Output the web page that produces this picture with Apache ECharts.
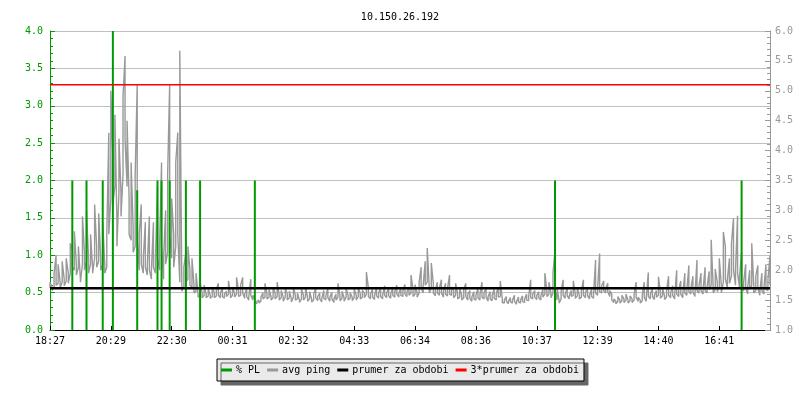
<!DOCTYPE html>
<html><head><meta charset="utf-8">
<script src="https://cdn.jsdelivr.net/npm/echarts@6/dist/echarts.min.js"></script>
<style>html,body{margin:0;padding:0;background:#fff}#c{width:800px;height:400px}</style>
</head><body><div id="c"></div>
<script>
const chartTitle = '10.150.26.192';
const tickLabels = ['18:27','20:29','22:30','00:31','02:32','04:33','06:34','08:36','10:37','12:39','14:40','16:41'];
const samplesPerTick = 30;
// avg ping (ms) per ~4-minute bin: highest and lowest reading in the bin, right axis
const pingEveningMax = [
 1.80,1.72,1.95,2.25,2.10,1.80,2.15,1.85,2.20,1.95,
 2.45,2.35,2.65,2.10,2.40,1.85,2.90,2.30,3.00,2.20,
 2.60,2.05,3.10,2.40,2.95,2.20,2.80,2.10,2.60,4.30,
 5.00,3.90,4.60,2.80,4.20,3.30,4.90,5.58,4.50,3.20,
 3.80,2.70,3.60,5.10,2.60,3.10,2.20,2.80,2.10,2.90,
 2.00,2.80,2.20,3.40,2.40,3.80,2.20,3.00,3.60,5.10,
 3.20,2.60,3.80,4.30,5.67,1.75,2.05,2.30,2.40,2.00,
 2.20,1.75,1.95,1.60,1.80,1.62,1.75,1.60,1.70,1.58,
 1.72,1.62,1.68,1.78,1.62,1.70,1.60
];
const pingEveningMin = [
 1.70,1.66,1.72,1.75,1.78,1.70,1.80,1.74,1.82,1.78,
 1.95,2.05,2.00,1.92,2.05,1.80,2.10,2.00,2.15,1.95,
 2.10,1.95,2.20,2.05,2.15,2.00,2.10,1.95,2.05,2.60,
 3.20,3.10,3.40,2.40,3.30,2.90,3.60,4.20,3.40,2.60,
 2.50,2.30,2.40,2.50,2.00,2.10,1.95,2.05,1.92,2.00,
 1.85,2.05,1.95,2.20,2.00,2.40,1.85,2.10,2.30,2.60,
 2.20,2.05,2.40,2.60,1.80,1.65,1.72,1.80,1.85,1.75,
 1.72,1.62,1.65,1.55,1.58,1.54,1.58,1.54,1.57,1.53,
 1.56,1.54,1.57,1.58,1.54,1.56,1.53
];
const pingNightMax = [
 1.65,1.82,1.60,1.72,1.62,1.88,1.65,1.75,1.88,1.60,
 1.70,1.55,1.85,1.58,1.52,1.48,1.50,1.55,1.62,1.78,
 1.60,1.68,1.56,1.70,1.62,1.80,1.58,1.66,1.55,1.70,
 1.60,1.65,1.52,1.72,1.58,1.62,1.50,1.68,1.58,1.72,
 1.55,1.64,1.52,1.60,1.70,1.56,1.62,1.53,1.66,1.57,
 1.70,1.55,1.63,1.52,1.60,1.78,1.56,1.65,1.54,1.70,
 1.58,1.62,1.55,1.68,1.58,1.72,1.60,1.66,1.62,1.97,
 1.70,1.60,1.68,1.58,1.72,1.62,1.70,1.58,1.74,1.62,
 1.70,1.60,1.72,1.64,1.75,1.62,1.70,1.66,1.76,1.64,
 1.72,1.92,1.68,1.76,1.62,1.80,2.05,1.75,2.15,2.37,
 1.72,2.12,1.78,1.68,1.80,1.70,1.84,1.66,1.78,1.70,
 1.92,1.72,1.66,1.78,1.60,1.70,1.58,1.68,1.78,1.60,
 1.66,1.55,1.64,1.58,1.70,1.60,1.80,1.62,1.70,1.56,
 1.64,1.58,1.68,1.60,1.72,1.82
];
const pingNightMin = [
 1.56,1.60,1.54,1.58,1.55,1.60,1.56,1.58,1.62,1.53,
 1.56,1.50,1.58,1.50,1.46,1.44,1.45,1.48,1.52,1.55,
 1.52,1.55,1.50,1.54,1.52,1.56,1.50,1.54,1.48,1.55,
 1.50,1.54,1.47,1.55,1.50,1.52,1.46,1.52,1.50,1.55,
 1.48,1.52,1.47,1.50,1.54,1.49,1.52,1.47,1.53,1.50,
 1.54,1.48,1.52,1.46,1.50,1.55,1.49,1.53,1.48,1.55,
 1.50,1.53,1.49,1.54,1.50,1.56,1.52,1.55,1.54,1.60,
 1.56,1.52,1.55,1.51,1.57,1.53,1.56,1.52,1.58,1.54,
 1.57,1.53,1.58,1.55,1.60,1.55,1.58,1.56,1.60,1.56,
 1.58,1.62,1.56,1.60,1.55,1.62,1.70,1.62,1.75,1.80,
 1.62,1.70,1.62,1.57,1.62,1.58,1.62,1.55,1.60,1.57,
 1.60,1.58,1.54,1.58,1.52,1.55,1.50,1.54,1.56,1.50,
 1.53,1.48,1.52,1.50,1.54,1.50,1.55,1.52,1.55,1.48,
 1.52,1.49,1.53,1.50,1.55,1.56
];
const pingDayMax = [
 1.52,1.50,1.56,1.48,1.54,1.50,1.58,1.47,1.55,1.50,
 1.57,1.52,1.60,1.56,1.84,1.60,1.66,1.58,1.64,1.57,
 1.68,1.95,1.65,1.80,1.62,1.95,2.34,1.70,1.50,1.64,
 1.84,1.60,1.70,1.57,1.66,1.82,1.60,1.70,1.58,1.66,
 1.84,1.62,1.72,1.58,1.68,1.60,2.17,1.70,2.28,1.74,
 1.82,1.70,1.78,1.66,1.60,1.52,1.48,1.56,1.50,1.58,
 1.52,1.60,1.50,1.57,1.52,1.60,1.80,1.55,1.50,1.58,
 1.80,1.55,1.96,1.60,1.70,1.58,1.66,1.89,1.62,1.70,
 1.57,1.66,1.90,1.62,1.74,1.58,2.00,1.68,1.82,1.60,
 1.95,1.66,2.08,1.70,1.90,1.60,2.17,1.75,1.95,1.68,
 2.05,1.72,1.98,2.51,1.70,2.02,1.80,2.20,1.75,2.64,
 2.39,1.85,2.20,2.45,2.87,2.00,2.91,1.90,2.30,1.80,
 2.10,1.72,2.00,2.45,1.75,1.90,2.08,1.65,1.95,1.70,
 2.10,1.85,2.25
];
const pingDayMin = [
 1.46,1.45,1.48,1.44,1.47,1.45,1.48,1.43,1.47,1.45,
 1.48,1.46,1.50,1.49,1.54,1.52,1.55,1.51,1.54,1.50,
 1.55,1.60,1.56,1.60,1.54,1.62,1.66,1.50,1.45,1.52,
 1.58,1.53,1.57,1.52,1.56,1.58,1.53,1.57,1.52,1.55,
 1.58,1.54,1.58,1.52,1.56,1.53,1.62,1.58,1.64,1.62,
 1.66,1.62,1.64,1.56,1.50,1.46,1.44,1.48,1.45,1.49,
 1.46,1.50,1.45,1.49,1.46,1.50,1.54,1.48,1.45,1.49,
 1.54,1.48,1.56,1.52,1.56,1.51,1.55,1.58,1.53,1.57,
 1.51,1.55,1.58,1.54,1.58,1.52,1.60,1.56,1.60,1.54,
 1.62,1.58,1.64,1.60,1.64,1.56,1.66,1.62,1.66,1.60,
 1.66,1.62,1.68,1.75,1.62,1.68,1.64,1.72,1.62,1.80,
 1.85,1.70,1.78,1.90,2.00,1.75,1.95,1.70,1.78,1.65,
 1.70,1.60,1.68,1.75,1.62,1.66,1.70,1.58,1.66,1.60,
 1.68,1.66,1.75
];
// packet loss (%), left axis: sample index and value
const plIndex = [11, 18, 26, 31, 43, 53, 55, 59, 67, 74, 101, 249, 341];
const plValue = [2.0, 2.0, 2.0, 4.0, 1.87, 2.0, 2.0, 2.0, 2.0, 2.0, 2.0, 2.0, 2.0];
const avgValue = 1.70;
const avg3Value = 5.10;

const pingMax = pingEveningMax.concat(pingNightMax, pingDayMax);
const pingMin = pingEveningMin.concat(pingNightMin, pingDayMin);
const lastIdx = pingMax.length - 1;
const pingPath = [];
pingMax.forEach((hi, i) => {
  const lo = pingMin[i];
  if (i % 2 === 0) { pingPath.push([i, lo], [i, hi]); }
  else { pingPath.push([i, hi], [i, lo]); }
});
const mono = 'DejaVu Sans Mono';
const green = '#009a00';
const gray = '#999999';

const chart = echarts.init(document.getElementById('c'), null, {renderer: 'canvas'});
chart.setOption({
  animation: false,
  backgroundColor: '#fff',
  title: {text: chartTitle, left: 'center', top: 7,
    textStyle: {fontFamily: mono, fontSize: 10, fontWeight: 'normal', color: '#000'}},
  grid: {left: 50, right: 30, top: 31, bottom: 70, containLabel: false},
  legend: {
    data: ['% PL', 'avg ping', 'prumer za obdobi', '3*prumer za obdobi'],
    left: 'center', top: 359,
    icon: 'rect', itemWidth: 11, itemHeight: 3, itemGap: 7,
    padding: [6, 5, 6, 4],
    backgroundColor: '#eaeaea', borderColor: '#000', borderWidth: 1,
    shadowColor: '#666', shadowBlur: 0, shadowOffsetX: 4, shadowOffsetY: 4,
    textStyle: {fontFamily: mono, fontSize: 10, color: '#000', padding: [0, 0, 0, -1]}
  },
  xAxis: {
    type: 'value', min: 0, max: lastIdx, interval: samplesPerTick,
    axisLine: {show: true, lineStyle: {color: '#000', width: 1}},
    axisTick: {show: true, inside: true, length: 4, lineStyle: {color: '#000'}},
    axisLabel: {fontFamily: mono, fontSize: 10, color: '#000', margin: 6, showMaxLabel: false,
      formatter: v => (v % samplesPerTick === 0 && tickLabels[v / samplesPerTick]) ? tickLabels[v / samplesPerTick] : ''},
    splitLine: {show: false}
  },
  yAxis: [
    {type: 'value', min: 0, max: 4, interval: 0.5, position: 'left',
      axisLine: {show: true, lineStyle: {color: green, width: 1}},
      axisTick: {show: true, inside: true, length: 5, lineStyle: {color: green}},
      minorTick: {show: true, splitNumber: 5, length: 3, lineStyle: {color: green}},
      axisLabel: {fontFamily: mono, fontSize: 10, color: green, margin: 7, formatter: v => v.toFixed(1)},
      splitLine: {show: true, lineStyle: {color: '#c0c0c0', width: 1}}},
    {type: 'value', min: 1, max: 6, interval: 0.5, position: 'right',
      axisLine: {show: true, lineStyle: {color: gray, width: 1}},
      axisTick: {show: true, inside: true, length: 5, lineStyle: {color: gray}},
      minorTick: {show: true, splitNumber: 5, length: 3, lineStyle: {color: gray}},
      axisLabel: {fontFamily: mono, fontSize: 10, color: gray, margin: 5, formatter: v => v.toFixed(1)},
      splitLine: {show: false}}
  ],
  series: [
    {name: 'avg ping', type: 'line', yAxisIndex: 1, z: 2, showSymbol: false, symbol: 'none',
      data: pingPath,
      lineStyle: {color: gray, width: 1.4}, itemStyle: {color: gray}},
    {name: '% PL', type: 'bar', yAxisIndex: 0, z: 3, barWidth: 2,
      data: plIndex.map((x, k) => [x, plValue[k]]),
      itemStyle: {color: green}},
    {name: 'prumer za obdobi', type: 'line', yAxisIndex: 1, z: 4, showSymbol: false, symbol: 'none',
      data: [[0, avgValue], [lastIdx, avgValue]],
      lineStyle: {color: '#000', width: 2.5}, itemStyle: {color: '#000'}},
    {name: '3*prumer za obdobi', type: 'line', yAxisIndex: 1, z: 5, showSymbol: false, symbol: 'none',
      data: [[0, avg3Value], [lastIdx, avg3Value]],
      lineStyle: {color: '#ff0000', width: 1.5}, itemStyle: {color: '#ff0000'}}
  ]
});
</script></body></html>
